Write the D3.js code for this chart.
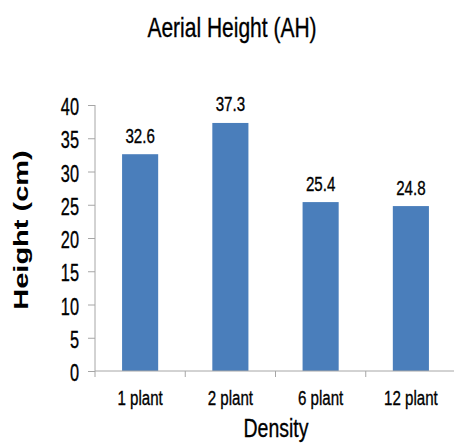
<!DOCTYPE html>
<html>
<head>
<meta charset="utf-8">
<script src="https://cdn.jsdelivr.net/npm/d3@7"></script>
<style>
  body { margin: 0; background: #fff; }
  text { font-family: "Liberation Sans", Arial, sans-serif; fill: #000; }
  .heavy { stroke: #000; stroke-width: 0.35px; }
</style>
</head>
<body>
<div id="chart"></div>
<script>
const categories = ["1 plant", "2 plant", "6 plant", "12 plant"];
const heights = [32.6, 37.3, 25.4, 24.8];
const yTicks = [0, 5, 10, 15, 20, 25, 30, 35, 40];

const W = 454, H = 445;
const margin = {top: 105, right: -2, bottom: 74, left: 95};
// the original picture is squeezed sideways, so text gets narrowed
const sx = 0.72;

const svg = d3.select("#chart")
  .append("svg")
    .attr("width", W)
    .attr("height", H);

const g = svg.append("g")
  .attr("transform", `translate(${margin.left},${margin.top})`);

const width = W - margin.left - margin.right,
  height = H - margin.top - margin.bottom;

const x = d3.scaleBand()
  .domain(categories)
  .range([0, width])
  .padding(0);

const y = d3.scaleLinear()
  .domain([0, 40])
  .range([height, 0]);

const barW = x.bandwidth() * 0.4;

// bars
g.selectAll(".bar")
  .data(categories)
  .join("rect")
    .attr("class", "bar")
    .attr("x", (d) => x(d) + (x.bandwidth() - barW) / 2)
    .attr("y", (d, i) => y(heights[i]))
    .attr("width", barW)
    .attr("height", (d, i) => height - y(heights[i]))
    .style("fill", "#4a7ebb");

// value labels
g.selectAll(".val")
  .data(categories)
  .join("text")
    .attr("class", "heavy")
    .attr("transform", (d, i) =>
      `translate(${x(d) + x.bandwidth() / 2},${y(heights[i]) - 11.5}) scale(${sx},1)`)
    .attr("text-anchor", "middle")
    .style("font-size", "21px")
    .text((d, i) => heights[i]);

// y axis
const yAxis = g.append("g")
  .call(d3.axisLeft(y).tickValues(yTicks).tickSize(7));
yAxis.select(".domain").attr("stroke", "#a6a6a6").attr("d", `M0,${height}V0`);
yAxis.selectAll(".tick line").attr("stroke", "#a6a6a6");
yAxis.selectAll(".tick text")
  .attr("class", "heavy")
  .attr("x", 0)
  .attr("dy", "0.4em")
  .attr("transform", `translate(-16,0) scale(0.68,1)`)
  .style("font-size", "24px")
  .attr("fill", "#000");

// x axis
const xAxis = g.append("g")
  .attr("transform", `translate(0,${height})`)
  .call(d3.axisBottom(x).tickSize(0));
xAxis.select(".domain").attr("stroke", "#a6a6a6").attr("d", `M0,0H${width}`);
xAxis.selectAll(".tick text")
  .attr("class", "heavy")
  .attr("y", 0)
  .attr("dy", 0)
  .attr("transform", `translate(0,34) scale(${sx},1)`)
  .style("font-size", "21px")
  .attr("fill", "#000");
// tick marks between categories
xAxis.selectAll(".sep")
  .data(categories)
  .join("line")
    .attr("x1", (d) => x(d))
    .attr("x2", (d) => x(d))
    .attr("y1", 0)
    .attr("y2", 6)
    .attr("stroke", "#a6a6a6");

// title
svg.append("text")
  .attr("class", "heavy")
  .attr("transform", `translate(232,37) scale(0.75,1)`)
  .attr("text-anchor", "middle")
  .style("font-size", "28px")
  .text("Aerial Height (AH)");

// axis titles
svg.append("text")
  .attr("class", "heavy")
  .attr("transform", `translate(276,437) scale(0.75,1)`)
  .attr("text-anchor", "middle")
  .style("font-size", "26px")
  .text("Density");

svg.append("text")
  .attr("transform", "translate(28,230) rotate(-90) scale(1,0.7)")
  .attr("text-anchor", "middle")
  .style("font-weight", "bold")
  .style("font-size", "29px")
  .text("Height (cm)");
</script>
</body>
</html>
